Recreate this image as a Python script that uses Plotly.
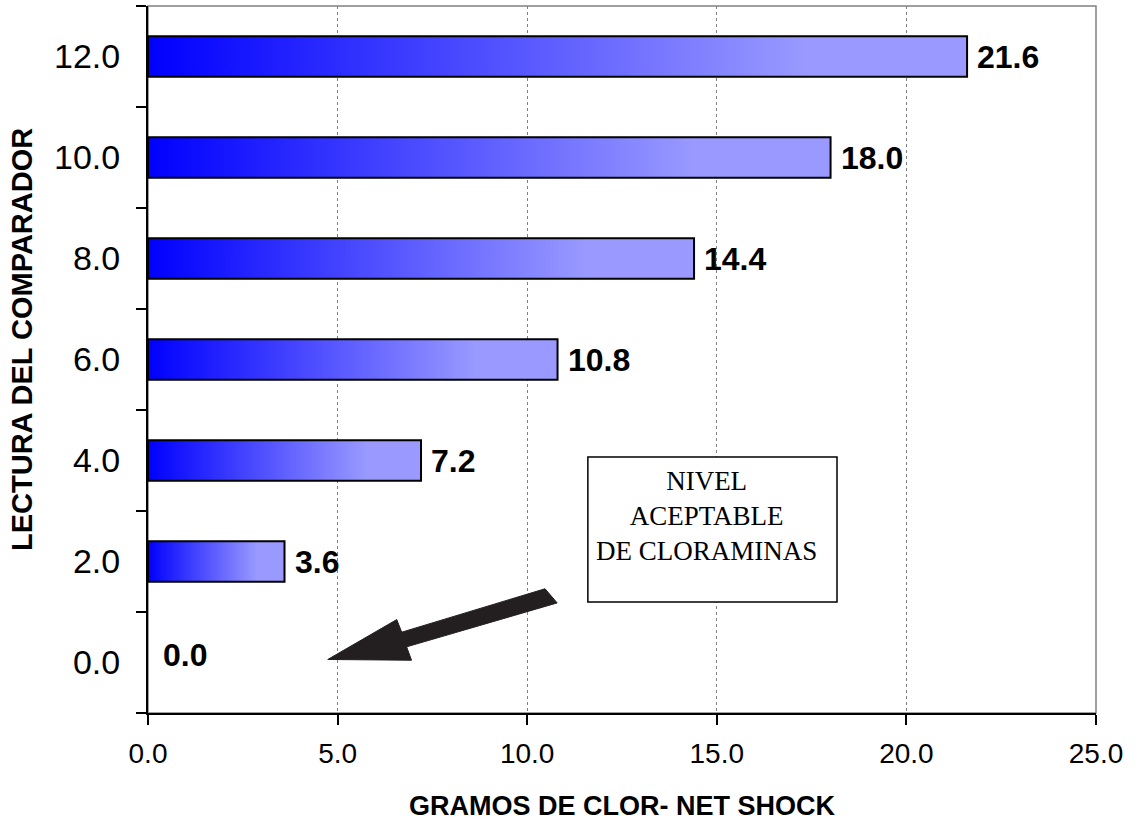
import plotly.graph_objects as go

# Data
lectura = [0, 2, 4, 6, 8, 10, 12]
gramos = [0.0, 3.6, 7.2, 10.8, 14.4, 18.0, 21.6]
y_labels = ["0.0", "2.0", "4.0", "6.0", "8.0", "10.0", "12.0"]
x_ticks = [0, 5, 10, 15, 20, 25]
x_labels = ["0.0", "5.0", "10.0", "15.0", "20.0", "25.0"]

SANS = "Liberation Sans, Arial, sans-serif"
SERIF = "Liberation Serif, Times New Roman, serif"
half = 0.4
grad = [[0, "#0000ff"], [0.8, "#9999ff"], [1, "#9999ff"]]

fig = go.Figure()

for c, v in zip(lectura, gramos):
    if v > 0:
        fig.add_trace(go.Scatter(
            x=[0, v, v, 0, 0],
            y=[c - half, c - half, c + half, c + half, c - half],
            mode="lines",
            fill="toself",
            fillgradient=dict(type="horizontal", colorscale=grad),
            line=dict(color="black", width=2),
            hoverinfo="skip",
            showlegend=False,
        ))
    fig.add_annotation(
        x=v, y=c, text=f"<b>{v:.1f}</b>", showarrow=False,
        xanchor="left", yanchor="middle", xshift=(13 if v == 0 else 8),
        yshift=(8 if v == 0 else 0),
        font=dict(family=SANS, size=32, color="black"),
    )

# text box
fig.add_shape(type="rect", xref="x", yref="y", x0=11.60, x1=18.17, y0=1.20, y1=4.07,
              line=dict(color="black", width=1.5), fillcolor="white", layer="above")
fig.add_annotation(
    x=14.74, y=2.90, xref="x", yref="y",
    text="NIVEL<br>ACEPTABLE<br>DE CLORAMINAS", showarrow=False,
    xanchor="center", yanchor="middle", align="center",
    font=dict(family=SERIF, size=27, color="black"),
)

# arrow
pts = [(10.47, 1.46), (6.69, 0.60), (6.56, 0.85), (4.74, 0.06),
       (6.95, 0.045), (6.82, 0.31), (10.79, 1.18)]
path = "M " + " L ".join(f"{x},{y}" for x, y in pts) + " Z"
fig.add_shape(type="path", xref="x", yref="y", path=path,
              fillcolor="#231f20", line=dict(color="#231f20", width=1), layer="above")

# plot border (gray top/right)
fig.add_shape(type="rect", xref="paper", yref="paper", x0=0, x1=1, y0=0, y1=1,
              line=dict(color="#808080", width=1.5), layer="below")

# axis titles
fig.add_annotation(
    xref="paper", yref="paper", x=0.5, y=-0.1315, xanchor="center", yanchor="middle",
    text="<b>GRAMOS DE CLOR- NET SHOCK</b>", showarrow=False,
    font=dict(family=SANS, size=27, color="black"),
)
fig.add_annotation(
    xref="paper", yref="paper", x=-0.1329, y=0.5276, xanchor="center", yanchor="middle",
    text="<b>LECTURA DEL COMPARADOR</b>", showarrow=False, textangle=-90,
    font=dict(family=SANS, size=29, color="black"),
)

fig.update_layout(
    width=1136, height=825,
    margin=dict(l=148, r=40, t=6, b=112, autoexpand=False),
    paper_bgcolor="white", plot_bgcolor="white",
    showlegend=False,
    xaxis=dict(
        range=[0, 25], tickvals=x_ticks, ticktext=x_labels,
        showgrid=True, gridcolor="#808080", griddash="dot", gridwidth=1,
        showline=True, linecolor="black", linewidth=2,
        ticks="outside", ticklen=10, tickcolor="black", tickwidth=1.5,
        ticklabelstandoff=4, automargin=False,
        tickfont=dict(family=SANS, size=28, color="black"),
        zeroline=False,
    ),
    yaxis=dict(
        range=[-1, 13], tickvals=lectura, ticktext=y_labels,
        showgrid=False, showline=True, linecolor="black", linewidth=2,
        ticks="", ticklabelstandoff=19, automargin=False,
        minor=dict(tickmode="array", tickvals=[-1, 1, 3, 5, 7, 9, 11, 13],
                   ticks="outside", ticklen=10, tickcolor="black", tickwidth=1.5,
                   showgrid=False),
        tickfont=dict(family=SANS, size=34, color="black"),
        zeroline=False,
    ),
)

fig.write_html("out.html", config={"displayModeBar": False},
               post_script="document.body.style.margin='0';document.body.style.overflow='hidden';")
